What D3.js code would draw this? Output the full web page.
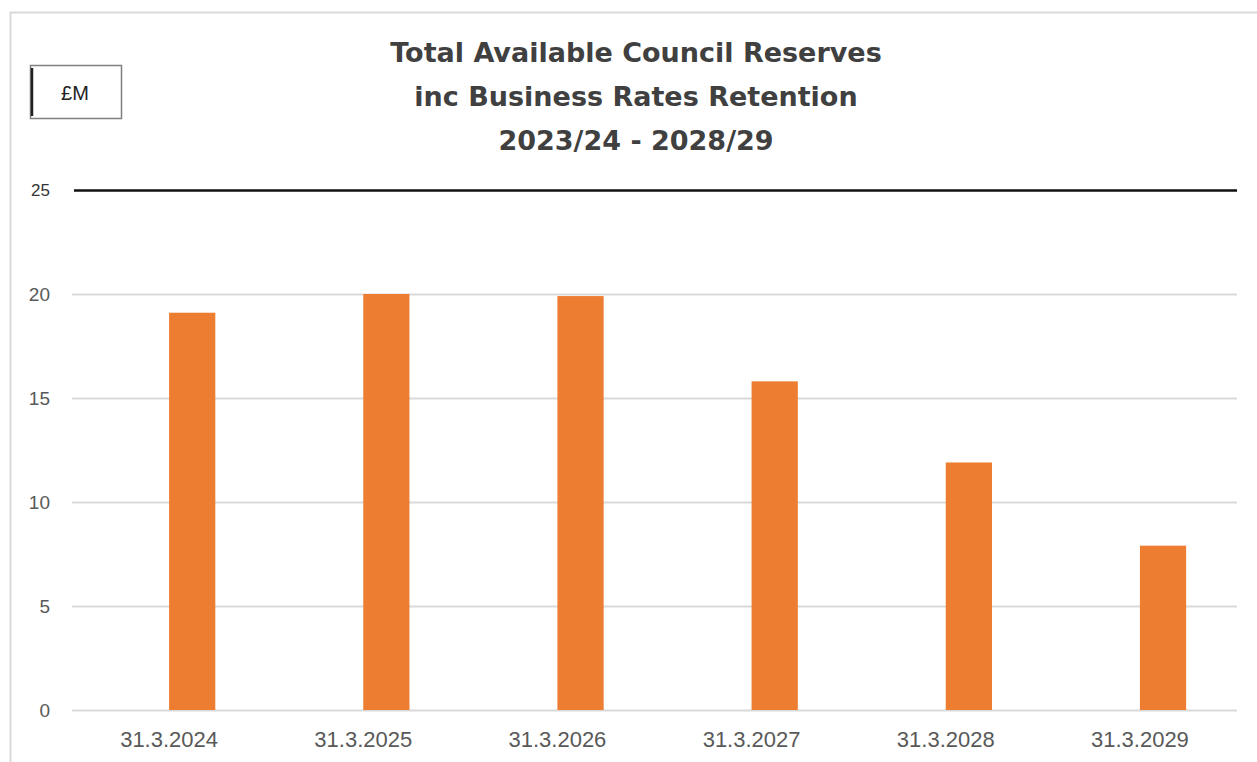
<!DOCTYPE html>
<html>
<head>
<meta charset="utf-8">
<script src="https://cdn.jsdelivr.net/npm/d3@7"></script>
<style>
	body { margin: 0; background: #fff; }
	svg { display: block; }
</style>
</head>
<body>
<svg width="1257" height="762"></svg>
<script>
// data
let dates = ["31.3.2024", "31.3.2025", "31.3.2026", "31.3.2027", "31.3.2028", "31.3.2029"];
let reserves = [19.1, 20.0, 19.9, 15.8, 11.9, 7.9];
let y_ticks = [0, 5, 10, 15, 20, 25];
let title_lines = ["Total Available Council Reserves", "inc Business Rates Retention", "2023/24 - 2028/29"];
let unit_label = "£M";

function draw_chart() {
	let svg = d3.select("svg");
	let font = "'Liberation Sans', Arial, sans-serif";
	let title_font = "'DejaVu Sans', Verdana, sans-serif";

	// outer chart frame
	svg.append("rect")
		.attr("x", 10.5).attr("y", 12.5)
		.attr("width", 1250).attr("height", 760)
		.attr("fill", "none")
		.attr("stroke", "#d9d9d9")
		.attr("stroke-width", 2);

	let plot = { left: 72, right: 1237, top: 190, bottom: 710 };

	let x = d3.scaleBand()
		.domain(dates)
		.range([plot.left, plot.right])
		.padding(0);

	// two-slot cluster, first slot empty (as in the original spreadsheet chart)
	let x_sub = d3.scaleBand()
		.domain(["blank", "reserves"])
		.range([0, x.bandwidth()])
		.paddingInner(0)
		.paddingOuter(1.1);

	let y = d3.scaleLinear()
		.domain([0, 25])
		.range([plot.bottom, plot.top]);

	// gridlines + y labels
	let y_axis = d3.axisLeft(y)
		.tickValues(y_ticks)
		.tickSize(-(plot.right - plot.left))
		.tickPadding(22);

	let gy = svg.append("g")
		.attr("transform", "translate(" + plot.left + ",0)")
		.call(y_axis);
	gy.select(".domain").remove();
	gy.selectAll(".tick line")
		.attr("stroke", "#d9d9d9")
		.attr("stroke-width", 2);
	gy.selectAll(".tick text")
		.attr("fill", "#595959")
		.style("font-family", font)
		.style("font-size", "19px");
	gy.selectAll(".tick")
		.filter(function(d) { return d === 25; })
		.select("line")
		.attr("stroke", "#111")
		.attr("stroke-width", 2.5)
		.attr("x1", 2);
	gy.selectAll(".tick")
		.filter(function(d) { return d === 25; })
		.select("text")
		.attr("fill", "#333")
		.style("font-size", "17px");

	// bars
	svg.selectAll(".bar")
		.data(reserves)
		.enter()
		.append("rect")
		.attr("class", "bar")
		.attr("x", function(d, i) { return x(dates[i]) + x_sub("reserves"); })
		.attr("width", x_sub.bandwidth())
		.attr("y", function(d) { return y(d); })
		.attr("height", function(d) { return y(0) - y(d); })
		.attr("fill", "#ed7d31");

	// x labels
	let x_axis = d3.axisBottom(x).tickSize(0).tickPadding(21);
	let gx = svg.append("g")
		.attr("transform", "translate(0," + plot.bottom + ")")
		.call(x_axis);
	gx.select(".domain").remove();
	gx.selectAll(".tick text")
		.attr("fill", "#595959")
		.style("font-family", font)
		.style("font-size", "22px");

	// title
	svg.append("text")
		.attr("x", 636)
		.attr("text-anchor", "middle")
		.style("font-family", title_font)
		.style("font-size", "27px")
		.style("font-weight", "bold")
		.attr("fill", "#404040")
		.selectAll("tspan")
		.data(title_lines)
		.enter()
		.append("tspan")
		.attr("x", 636)
		.attr("y", function(d, i) { return 62 + i * 44; })
		.text(function(d) { return d; });

	// unit box
	svg.append("rect")
		.attr("x", 30.5).attr("y", 65.5)
		.attr("width", 91).attr("height", 53)
		.attr("fill", "#fff")
		.attr("stroke", "#7f7f7f")
		.attr("stroke-width", 1.5);
	svg.append("line")
		.attr("x1", 32).attr("x2", 32)
		.attr("y1", 68).attr("y2", 116)
		.attr("stroke", "#222")
		.attr("stroke-width", 2.5);
	svg.append("text")
		.attr("x", 75).attr("y", 100)
		.attr("text-anchor", "middle")
		.style("font-family", font)
		.style("font-size", "20px")
		.attr("fill", "#222")
		.text(unit_label);
}

draw_chart();
</script>
</body>
</html>
